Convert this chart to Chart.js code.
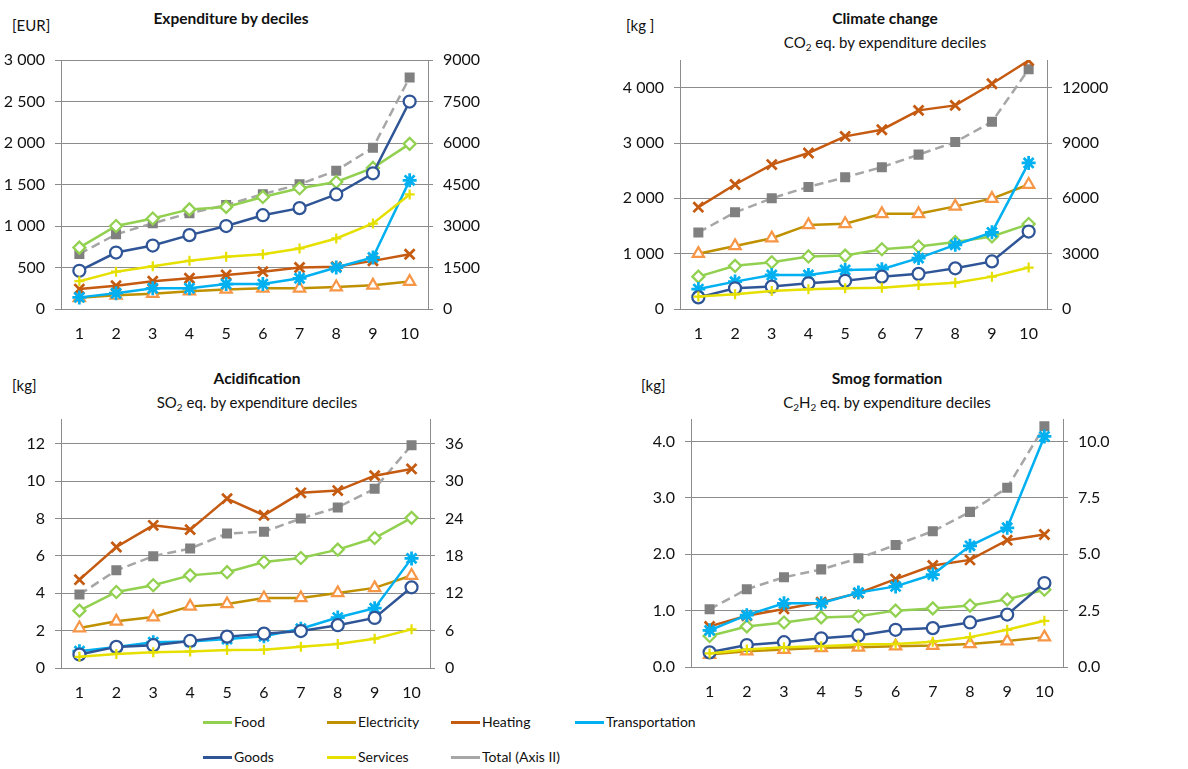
<!DOCTYPE html>
<html>
<head>
<meta charset="utf-8">
<script src="https://cdn.jsdelivr.net/npm/chart.js@4.4.1/dist/chart.umd.min.js"></script>
<style>
  body { margin: 0; background: #fff; font-family: Lato, sans-serif; color: #111; }
  #page { position: relative; width: 1188px; height: 769px; overflow: hidden; }
  canvas { position: absolute; }
  .title { position: absolute; transform: translateX(-50%); white-space: nowrap; font-weight: bold; font-size: 15.5px; line-height: 20px; }
  .sub { position: absolute; transform: translateX(-50%); white-space: nowrap; font-size: 15px; line-height: 20px; }
  .sub sub { font-size: 10px; vertical-align: -3px; line-height: 0; }
  .unit { position: absolute; font-size: 15px; line-height: 20px; }
  .legend-item { position: absolute; display: flex; align-items: center; font-size: 14px; line-height: 20px; white-space: nowrap; }
  .legend-item .swatch { width: 29px; height: 3px; margin-right: 2px; }
</style>
</head>
<body>
<div id="page">
  <div class="unit" style="left:12px; top:15px">[EUR]</div>
  <div class="title" style="left:231px; top:8px">Expenditure by deciles</div>

  <div class="unit" style="left:626px; top:15px">[kg ]</div>
  <div class="title" style="left:885px; top:8px">Climate change</div>
  <div class="sub" style="left:885px; top:32px">CO<sub>2</sub> eq. by expenditure deciles</div>

  <div class="unit" style="left:12px; top:375px">[kg]</div>
  <div class="title" style="left:257px; top:368px">Acidification</div>
  <div class="sub" style="left:257px; top:392px">SO<sub>2</sub> eq. by expenditure deciles</div>

  <div class="unit" style="left:641px; top:375px">[kg]</div>
  <div class="title" style="left:887px; top:368px">Smog formation</div>
  <div class="sub" style="left:887px; top:392px">C<sub>2</sub>H<sub>2</sub> eq. by expenditure deciles</div>

  <canvas id="expChart" width="594" height="350" style="left:0; top:0"></canvas>
  <canvas id="co2Chart" width="594" height="350" style="left:594px; top:0"></canvas>
  <canvas id="so2Chart" width="594" height="345" style="left:0; top:360px"></canvas>
  <canvas id="smogChart" width="594" height="345" style="left:594px; top:360px"></canvas>
  <div id="legend"></div>
</div>

<script>
const deciles = ['1', '2', '3', '4', '5', '6', '7', '8', '9', '10'];
const seriesNames = ['Food', 'Electricity', 'Heating', 'Transportation', 'Goods', 'Services', 'Total (Axis II)'];

// Expenditure by deciles [EUR] (total on axis II)
const expFood      = [740, 1000, 1090, 1200, 1230, 1350, 1455, 1530, 1700, 1990];
const expElectric  = [135, 165, 185, 215, 235, 250, 250, 265, 285, 330];
const expHeating   = [240, 280, 335, 370, 410, 450, 500, 510, 580, 660];
const expTransport = [140, 190, 250, 250, 300, 300, 370, 500, 620, 1550];
const expGoods     = [460, 680, 765, 890, 1000, 1130, 1215, 1380, 1635, 2500];
const expServices  = [335, 450, 515, 580, 630, 660, 730, 850, 1030, 1380];
const expTotal     = [1990, 2700, 3100, 3460, 3760, 4150, 4510, 5000, 5830, 8370];
const expTicks     = [0, 500, 1000, 1500, 2000, 2500, 3000];
const expTicks2    = [0, 1500, 3000, 4500, 6000, 7500, 9000];

// Climate change, CO2 eq. [kg]
const co2Food      = [585, 780, 845, 950, 965, 1080, 1130, 1210, 1310, 1535];
const co2Electric  = [1000, 1140, 1280, 1520, 1540, 1720, 1720, 1855, 1995, 2250];
const co2Heating   = [1840, 2250, 2610, 2820, 3120, 3240, 3590, 3680, 4070, 4490];
const co2Transport = [360, 495, 615, 615, 705, 720, 920, 1160, 1385, 2640];
const co2Goods     = [210, 375, 405, 465, 510, 585, 635, 735, 860, 1400];
const co2Services  = [225, 265, 325, 355, 375, 385, 435, 475, 585, 750];
const co2Total     = [4150, 5240, 6000, 6620, 7140, 7690, 8370, 9050, 10150, 13000];
const co2Ticks     = [0, 1000, 2000, 3000, 4000];
const co2Ticks2    = [0, 3000, 6000, 9000, 12000];

// Acidification, SO2 eq. [kg]
const so2Food      = [3.07, 4.07, 4.43, 4.96, 5.13, 5.68, 5.89, 6.34, 6.96, 8.04];
const so2Electric  = [2.14, 2.5, 2.73, 3.3, 3.43, 3.75, 3.75, 4.02, 4.29, 4.95];
const so2Heating   = [4.73, 6.48, 7.64, 7.41, 9.07, 8.18, 9.38, 9.5, 10.3, 10.66];
const so2Transport = [0.9, 1.12, 1.38, 1.42, 1.55, 1.7, 2.1, 2.7, 3.2, 5.87];
const so2Goods     = [0.72, 1.13, 1.22, 1.45, 1.68, 1.84, 1.98, 2.29, 2.68, 4.32];
const so2Services  = [0.6, 0.75, 0.84, 0.89, 0.96, 0.98, 1.14, 1.29, 1.57, 2.07];
const so2Total     = [11.8, 15.7, 17.95, 19.2, 21.6, 21.9, 24.0, 25.8, 28.8, 35.8];
const so2Ticks     = [0, 2, 4, 6, 8, 10, 12];
const so2Ticks2    = [0, 6, 12, 18, 24, 30, 36];

// Smog formation, C2H2 eq. [kg]
const smogFood      = [0.55, 0.72, 0.79, 0.88, 0.9, 1.0, 1.04, 1.09, 1.2, 1.37];
const smogElectric  = [0.22, 0.28, 0.31, 0.34, 0.35, 0.37, 0.38, 0.41, 0.46, 0.53];
const smogHeating   = [0.72, 0.91, 1.03, 1.15, 1.31, 1.56, 1.8, 1.9, 2.25, 2.35];
const smogTransport = [0.65, 0.92, 1.13, 1.13, 1.32, 1.43, 1.64, 2.15, 2.47, 4.09];
const smogGoods     = [0.26, 0.39, 0.44, 0.51, 0.56, 0.66, 0.69, 0.79, 0.93, 1.49];
const smogServices  = [0.24, 0.31, 0.35, 0.37, 0.4, 0.41, 0.45, 0.53, 0.66, 0.82];
const smogTotal     = [2.56, 3.45, 3.98, 4.33, 4.82, 5.41, 6.02, 6.88, 7.95, 10.68];
const smogTicks     = [0, 1, 2, 3, 4];
const smogTicks2    = [0, 2.5, 5, 7.5, 10];

// look of each series (same order as seriesNames)
const lineColors   = ['#92D050', '#BF9000', '#C55A11', '#00B0F0', '#2F5597', '#E6E000', '#A6A6A6'];
const markerColors = ['#92D050', '#F79646', '#C55A11', '#00B0F0', '#2F5597', '#E6E000', '#808080'];
const markerStyles = ['rectRot', 'triangle', 'crossRot', 'star', 'circle', 'cross', 'rect'];
const markerFill   = ['#fff', '#fff', '#fff', '#fff', '#fff', '#fff', '#808080'];
const markerSize   = [6, 6.5, 7, 7, 6, 5, 5.5];

const spaced = v => String(v).replace(/\B(?=(\d{3})+(?!\d))/g, ' ');
const plain = v => String(v);
const oneDec = v => Number(v).toFixed(1);

Chart.defaults.font.family = 'Lato, sans-serif';
Chart.defaults.font.size = 16;
Chart.defaults.color = '#111';

const gridColor = '#8C8C8C';

function makeChart(id, w, h, area, series, left, right) {
    const datasets = series.map((values, i) => ({
        label: seriesNames[i],
        data: values,
        yAxisID: i === 6 ? 'y2' : 'y',
        order: i === 6 ? 10 : 5 - i,
        borderColor: lineColors[i],
        borderWidth: 2.5,
        borderDash: i === 6 ? [9, 5] : [],
        pointStyle: markerStyles[i],
        pointRadius: markerSize[i],
        pointBorderColor: markerColors[i],
        pointBackgroundColor: markerFill[i],
        pointBorderWidth: i === 2 || i === 3 ? 2.75 : 2.25,
        tension: 0,
        fill: false,
    }));

    return new Chart(document.getElementById(id), {
        type: 'line',
        data: { labels: deciles, datasets: datasets },
        options: {
            responsive: false,
            animation: false,
            events: [],
            layout: { padding: { top: area.top, left: 0, right: 0, bottom: 0 } },
            plugins: { legend: { display: false }, tooltip: { enabled: false } },
            scales: {
                x: {
                    offset: true,
                    grid: { display: false, drawTicks: false },
                    border: { display: true, color: gridColor },
                    ticks: { padding: 15 },
                    afterFit: s => { s.height = h - area.bottom; }
                },
                y: {
                    position: 'left',
                    min: 0,
                    max: left.max,
                    ticks: { padding: 10, callback: left.fmt },
                    afterBuildTicks: s => { s.ticks = left.ticks.map(v => ({ value: v })); },
                    grid: { color: gridColor, tickLength: 6 },
                    border: { color: gridColor },
                    afterFit: s => { s.width = area.left; }
                },
                y2: {
                    position: 'right',
                    min: 0,
                    max: right.max,
                    ticks: { padding: 10, callback: right.fmt },
                    afterBuildTicks: s => { s.ticks = right.ticks.map(v => ({ value: v })); },
                    grid: { drawOnChartArea: false, color: gridColor, tickLength: 5 },
                    border: { color: gridColor },
                    afterFit: s => { s.width = w - area.right; }
                }
            }
        }
    });
}

makeChart('expChart', 594, 350, { left: 61, right: 428, top: 60, bottom: 309 },
    [expFood, expElectric, expHeating, expTransport, expGoods, expServices, expTotal],
    { max: 3000, ticks: expTicks, fmt: spaced }, { max: 9000, ticks: expTicks2, fmt: plain });

makeChart('co2Chart', 594, 350, { left: 86, right: 453, top: 60, bottom: 309 },
    [co2Food, co2Electric, co2Heating, co2Transport, co2Goods, co2Services, co2Total],
    { max: 4500, ticks: co2Ticks, fmt: spaced }, { max: 13500, ticks: co2Ticks2, fmt: plain });

makeChart('so2Chart', 594, 345, { left: 61, right: 430, top: 59, bottom: 308 },
    [so2Food, so2Electric, so2Heating, so2Transport, so2Goods, so2Services, so2Total],
    { max: 40 / 3, ticks: so2Ticks, fmt: plain }, { max: 40, ticks: so2Ticks2, fmt: plain });

makeChart('smogChart', 594, 345, { left: 97, right: 469, top: 59, bottom: 307 },
    [smogFood, smogElectric, smogHeating, smogTransport, smogGoods, smogServices, smogTotal],
    { max: 4.4, ticks: smogTicks, fmt: oneDec }, { max: 11, ticks: smogTicks2, fmt: oneDec });

// shared legend, 4 columns x 2 rows like the original
const legend = document.getElementById('legend');
seriesNames.forEach((name, i) => {
    const item = document.createElement('div');
    item.className = 'legend-item';
    item.style.left = (203 + (i % 4) * 124) + 'px';
    item.style.top = (712 + Math.floor(i / 4) * 35) + 'px';
    item.innerHTML = '<span class="swatch" style="background:' + lineColors[i] + '"></span>' + name;
    legend.appendChild(item);
});
</script>
</body>
</html>
